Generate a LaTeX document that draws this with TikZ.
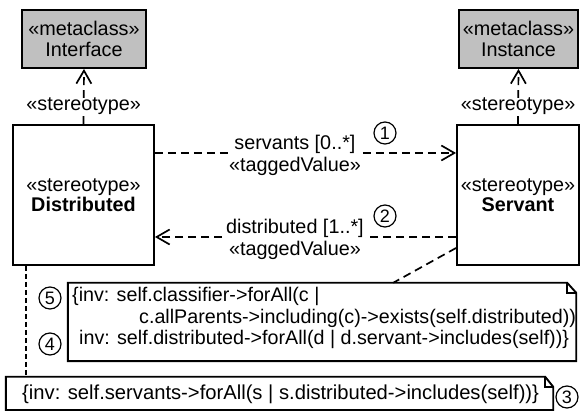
\documentclass[tikz,border=0pt]{standalone}
\usepackage{fontspec}
\setmainfont{Liberation Sans}
\usetikzlibrary{arrows.meta,calc}
\definecolor{metagray}{RGB}{192,192,192}
\begin{document}
\begin{tikzpicture}[x=1pt,y=-1pt,
  every node/.style={font=\fontsize{19.8}{20.5}\selectfont},
  box/.style={draw, line width=1.9pt, rectangle, inner sep=0pt, align=center},
  meta/.style={box, fill=metagray},
  dep/.style={line width=1.7pt, dash pattern=on 8pt off 5pt},
  fine/.style={line width=1.3pt, dash pattern=on 5pt off 3pt},
  barb/.style={-{Straight Barb[length=13pt,width=15pt]}},
  lbl/.style={fill=white, inner xsep=1pt, inner ysep=1pt, align=center,
              font=\fontsize{19.8}{22}\selectfont},
  num/.style={circle, draw, line width=1.2pt, minimum size=22pt, inner sep=0pt,
              font=\fontsize{18}{18}\selectfont},
  notel/.style={line width=1.9pt, line join=miter},
  ocl/.style={anchor=base west, inner sep=0pt, font=\fontsize{19.7}{22}\selectfont},
]
\useasboundingbox (0,0) rectangle (584,411);

% metaclasses
\node[meta, minimum width=124pt, minimum height=58pt] (iface) at (84,39) {«metaclass»\\Interface};
\node[meta, minimum width=119pt, minimum height=58pt] (inst) at (518.5,39) {«metaclass»\\Instance};

% stereotypes
\node[box, minimum width=141pt, minimum height=140pt] (dist) at (83.5,195) {«stereotype»\\\textbf{Distributed}};
\node[box, minimum width=122pt, minimum height=140pt] (serv) at (518,195) {«stereotype»\\\textbf{Servant}};

% extension dependencies
\draw[dep, barb] (dist.north) -- node[lbl, pos=0.32, inner ysep=0pt, font=\fontsize{19.8}{20}\selectfont] {«stereotype»} (iface.south);
\draw[dep, barb] (serv.north) -- node[lbl, pos=0.32, inner ysep=0pt, font=\fontsize{19.8}{20}\selectfont] {«stereotype»} (inst.south);

% tagged values
\draw[dep, barb] ([yshift=42pt]dist.east) -- node[lbl, pos=0.465, yshift=-2pt] {servants [0..*]\\«taggedValue»} ([yshift=42pt]serv.west);
\draw[dep, barb] ([yshift=-42pt]serv.west) -- node[lbl, pos=0.535, yshift=-2pt] {distributed [1..*]\\«taggedValue»} ([yshift=-42pt]dist.east);

\node[num] (n1) at (385,133) {1};
\node[num] (n2) at (385,216) {2};

% OCL constraint notes
\node[minimum width=508pt, minimum height=78pt, inner sep=0pt] (note1) at (322,322) {};
\draw[notel] (note1.north west) -- ([xshift=-9pt]note1.north east) -- ([yshift=-10pt]note1.north east)
  -- (note1.south east) -- (note1.south west) -- cycle;
\draw[notel] ([xshift=-9pt]note1.north east) |- ([yshift=-10pt]note1.north east);

\node[minimum width=547pt, minimum height=33pt, inner sep=0pt] (note2) at (279.5,393.5) {};
\draw[notel] (note2.north west) -- ([xshift=-8pt]note2.north east) -- ([yshift=-10pt]note2.north east)
  -- (note2.south east) -- (note2.south west) -- cycle;
\draw[notel] ([xshift=-8pt]note2.north east) |- ([yshift=-10pt]note2.north east);

\node[ocl] (l1) at (72,302) {\{inv: self.classifier->forAll(c |};
\node[ocl] (l2) at (139,324) {c.allParents->including(c)->exists(self.distributed))};
\node[ocl] (l3) at (79,345) {inv: self.distributed->forAll(d | d.servant->includes(self))\}};
\node[ocl, font=\fontsize{20.2}{22}\selectfont] (l4) at (22,400) {\{inv: self.servants->forAll(s | s.distributed->includes(self))\}};

\node[num] (n5) at (50,298) {5};
\node[num] (n4) at (50,344) {4};
\node[num] (n3) at (567,397) {3};

% note anchors
\coordinate (c1) at ($(note1.north west)!0.64!(note1.north east)$);
\coordinate (c2) at ([xshift=14pt]dist.south west);
\draw[dep] ([yshift=-53pt]serv.west) -- (c1);
\draw[fine] (c2) -- (c2 |- note2.north);
\end{tikzpicture}
\end{document}
